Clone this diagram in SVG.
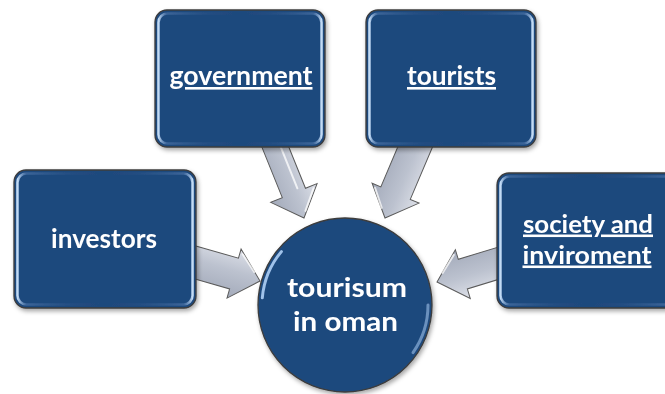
<svg xmlns="http://www.w3.org/2000/svg" width="665" height="394" viewBox="0 0 665 394">
<defs>
<style>
.box{fill:#1f497d;stroke:#3c3c3c;stroke-width:1.3}
.bevel{fill:none;stroke:url(#bevelG);stroke-width:2.6}
.arrow{fill:url(#arrowG);stroke:#5a5a5a;stroke-width:1}
.shine{fill:none;stroke:#ffffff;stroke-opacity:0.75;stroke-width:2;stroke-linecap:round}
.lbl{font-family:"Lato","Open Sans",sans-serif;font-weight:bold;font-size:26px;fill:#ffffff;text-anchor:middle}
.u{text-decoration:underline}
.two{font-size:25.5px}
.big{font-size:27.5px}
.hl{fill:none;stroke:#9fc2ea;stroke-width:3;stroke-linecap:round}
</style>
<linearGradient id="bevelG" x1="0" y1="0" x2="1" y2="0">
<stop offset="0" stop-color="#c2dbf5" stop-opacity="1"/>
<stop offset="0.05" stop-color="#6f98cc" stop-opacity="0.35"/>
<stop offset="0.5" stop-color="#1f497d" stop-opacity="0"/>
<stop offset="0.95" stop-color="#6f98cc" stop-opacity="0.35"/>
<stop offset="1" stop-color="#c2dbf5" stop-opacity="1"/>
</linearGradient>
<linearGradient id="arrowG" x1="0" y1="0" x2="0" y2="1">
<stop offset="0" stop-color="#dde0e8"/>
<stop offset="0.45" stop-color="#bcc2cf"/>
<stop offset="1" stop-color="#a3aaba"/>
</linearGradient>
<filter id="sh" x="-10%" y="-10%" width="125%" height="125%">
<feDropShadow dx="1.5" dy="2.5" stdDeviation="2" flood-color="#000" flood-opacity="0.35"/>
</filter>
</defs>

<g id="connectors">
<g transform="translate(304,218) rotate(68)">
<path class="arrow" d="M-85,-12.5 L-27,-12.5 L-27,-25 L0,0 L-27,25 L-27,12.5 L-85,12.5 Z"/>
<path class="shine" d="M-80,-5 L-30,-5"/>
<path class="shine" d="M-24,-20 L-6,-4" stroke-opacity="0.5"/>
</g>
<g transform="translate(385,218) rotate(113)">
<path class="arrow" d="M-85,-16 L-27,-16 L-27,-25.5 L0,0 L-27,25.5 L-27,16 L-85,16 Z"/>
<path class="shine" d="M-24,21 L-8,7" stroke-opacity="0.8"/>
</g>
<g transform="translate(260,281) rotate(16)">
<path class="arrow" d="M-75,-16 L-27,-16 L-27,-25.5 L0,0 L-27,25.5 L-27,16 L-75,16 Z"/>
<path class="shine" d="M-24,-21 L-8,-7" stroke-opacity="0.6"/>
</g>
<g transform="translate(437,282) rotate(163)">
<path class="arrow" d="M-75,-15.5 L-27,-15.5 L-27,-25.5 L0,0 L-27,25.5 L-27,15.5 L-75,15.5 Z"/>
<path class="shine" d="M-24,21 L-8,7" stroke-opacity="0.8"/>
</g>
</g>

<g id="government" filter="url(#sh)">
<rect class="box" x="155" y="10" width="170" height="137" rx="12"/>
<rect class="bevel" x="158.5" y="13.5" width="163" height="130" rx="9"/>
<text class="lbl u" x="241" y="85" textLength="143" lengthAdjust="spacingAndGlyphs">government</text>
</g>

<g id="tourists" filter="url(#sh)">
<rect class="box" x="366" y="10" width="170" height="137" rx="12"/>
<rect class="bevel" x="369.5" y="13.5" width="163" height="130" rx="9"/>
<text class="lbl u" x="451.5" y="85" textLength="89" lengthAdjust="spacingAndGlyphs">tourists</text>
</g>

<g id="investors" filter="url(#sh)">
<rect class="box" x="14" y="170" width="182" height="138" rx="12"/>
<rect class="bevel" x="17.5" y="173.5" width="175" height="131" rx="9"/>
<text class="lbl" x="104" y="248" textLength="106" lengthAdjust="spacingAndGlyphs">investors</text>
</g>

<g id="society" filter="url(#sh)">
<rect class="box" x="497" y="173" width="182" height="135" rx="12"/>
<rect class="bevel" x="500.5" y="176.5" width="175" height="128" rx="9"/>
<text class="lbl u two" x="588" y="232.5" textLength="130" lengthAdjust="spacingAndGlyphs">society and</text>
<text class="lbl u two" x="587" y="263.5" textLength="129" lengthAdjust="spacingAndGlyphs">inviroment</text>
</g>

<g id="tourism" filter="url(#sh)">
<circle class="box" cx="345" cy="305" r="87"/>
<path class="hl" d="M262.3,297.8 A83,83 0 0 1 281.4,251.6"/>
<path class="hl" d="M428,305 A83,83 0 0 1 413,352.6" stroke-opacity="0.6"/>
<text class="lbl big" x="347" y="296.5" textLength="120" lengthAdjust="spacingAndGlyphs">tourisum</text>
<text class="lbl big" x="345.5" y="330.5" textLength="105" lengthAdjust="spacingAndGlyphs">in oman</text>
</g>
</svg>
